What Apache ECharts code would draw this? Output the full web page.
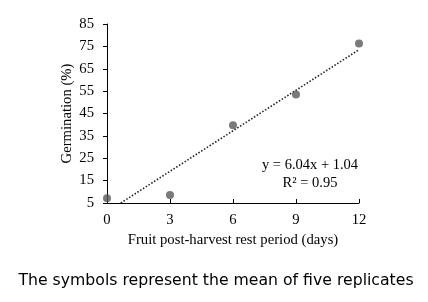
<!DOCTYPE html>
<html>
<head>
<meta charset="utf-8">
<script src="https://cdn.jsdelivr.net/npm/echarts@6/dist/echarts.min.js"></script>
<style>
  html, body { margin: 0; padding: 0; background: #fff; }
  #chart { width: 428px; height: 302px; }
</style>
</head>
<body>
<div id="chart"></div>
<script>
// observed means
const restDays = [0, 3, 6, 9, 12]
const germination = [7.1, 8.6, 39.7, 53.5, 76.3]

// linear trend shown on the chart
const slope = 6.04
const intercept = 1.04
const rSquared = 0.95

const yMin = 5
const yMax = 85
const yStep = 10
const xTicks = [0, 3, 6, 9, 12]

// trend starts where it meets the bottom of the y axis
const trendStart = (yMin - intercept) / slope
const trendEnd = xTicks[xTicks.length - 1]
const trendData = [trendStart, trendEnd].map((x) => [x, slope * x + intercept])

const serif = '"Liberation Serif", "Times New Roman", serif'

const chart = echarts.init(document.getElementById('chart'))
chart.setOption({
  animation: false,
  grid: { left: 107, right: 69, top: 24, bottom: 99 },
  xAxis: {
    type: 'value',
    min: 0,
    max: 12,
    interval: 3,
    name: 'Fruit post-harvest rest period (days)',
    nameLocation: 'middle',
    nameGap: 30,
    nameMoveOverlap: false,
    nameTextStyle: { fontFamily: serif, fontSize: 14.7, color: '#000' },
    axisLine: { show: true, onZero: false, lineStyle: { color: '#000', width: 1 } },
    axisTick: { show: true, inside: true, length: 4, lineStyle: { color: '#000' } },
    axisLabel: { fontFamily: serif, fontSize: 14.7, color: '#000', margin: 10 },
    splitLine: { show: false },
  },
  yAxis: {
    type: 'value',
    min: yMin,
    max: yMax,
    interval: yStep,
    name: 'Germination (%)',
    nameLocation: 'middle',
    nameGap: 32,
    nameMoveOverlap: false,
    nameTextStyle: { fontFamily: serif, fontSize: 14.7, color: '#000' },
    axisLine: { show: true, lineStyle: { color: '#000', width: 1 } },
    axisTick: { show: true, length: 4, lineStyle: { color: '#000' } },
    axisLabel: { fontFamily: serif, fontSize: 14.7, color: '#000', margin: 13 },
    splitLine: { show: false },
  },
  series: [
    {
      type: 'line',
      data: trendData,
      symbol: 'none',
      lineStyle: { color: '#222', width: 1.6, type: [1.5, 1.8] },
      silent: true,
      z: 1,
    },
    {
      type: 'scatter',
      data: restDays.map((d, i) => [d, germination[i]]),
      symbolSize: 8,
      itemStyle: { color: '#595959' },
      z: 2,
    },
  ],
  graphic: [
    {
      type: 'text',
      x: 310,
      y: 165,
      style: {
        text: `y = ${slope.toFixed(2)}x + ${intercept.toFixed(2)}`,
        fontFamily: serif,
        fontSize: 14.5,
        fill: '#000',
        align: 'center',
        verticalAlign: 'middle',
      },
    },
    {
      type: 'text',
      x: 310,
      y: 183,
      style: {
        text: `R² = ${rSquared.toFixed(2)}`,
        fontFamily: serif,
        fontSize: 14.5,
        fill: '#000',
        align: 'center',
        verticalAlign: 'middle',
      },
    },
    {
      type: 'text',
      x: 216,
      y: 281,
      style: {
        text: 'The symbols represent the mean of five replicates',
        fontFamily: '"DejaVu Sans", Verdana, sans-serif',
        fontSize: 15.7,
        fill: '#000',
        align: 'center',
        verticalAlign: 'middle',
      },
    },
  ],
})
</script>
</body>
</html>
